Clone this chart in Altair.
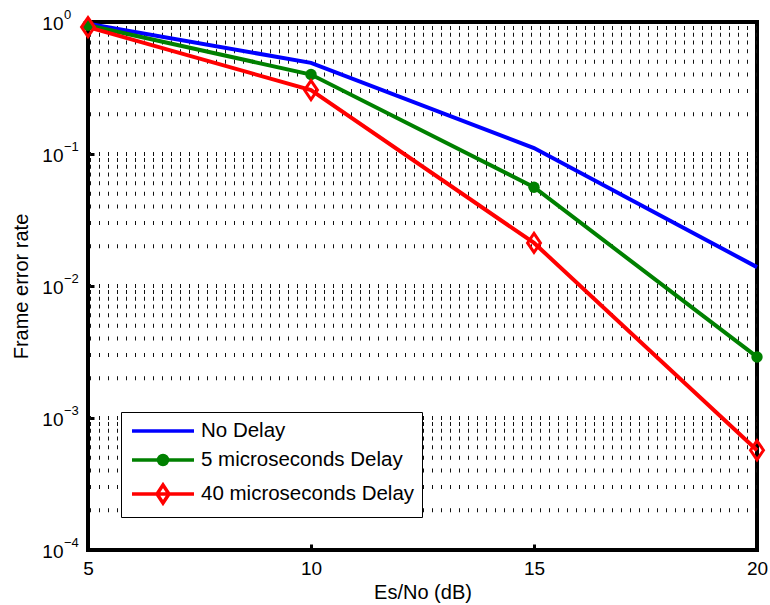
import altair as alt
import pandas as pd

# ---- data ----
es_no = [5, 10, 15, 20]
no_delay = [0.97, 0.49, 0.111, 0.0139]
delay_5us = [0.945, 0.40, 0.056, 0.0029]
delay_40us = [0.915, 0.305, 0.0212, 0.00057]

series_names = ["No Delay", "5 microseconds Delay", "40 microseconds Delay"]
series_colors = ["#0000ff", "#008000", "#ff0000"]

x_ticks = [5, 10, 15, 20]
y_major = [1e-4, 1e-3, 1e-2, 1e-1, 1.0]
y_exponents = ["\u22124", "\u22123", "\u22122", "\u22121", "0"]
# dotted grid rows (MATLAB minor + major grid on log axis)
grid_values = [m * 10.0 ** k for k in range(-4, 0) for m in range(1, 10)][1:]

FONT = "Liberation Sans"

rows = []
for name, vals in zip(series_names, [no_delay, delay_5us, delay_40us]):
    for xv, yv in zip(es_no, vals):
        rows.append({"series": name, "es_no": xv, "fer": yv})
df = pd.DataFrame(rows)

color_scale = alt.Scale(domain=series_names, range=series_colors)

x_enc = alt.X(
    "es_no:Q",
    scale=alt.Scale(domain=[5, 20], nice=False, zero=False),
    axis=alt.Axis(
        values=x_ticks, format="d", title="Es/No (dB)", offset=-6, tickSize=6,
        tickWidth=3, tickColor="black", domain=False, grid=False,
        labelFontSize=19, labelPadding=9, labelColor="black", labelFont=FONT,
        labelFlush=False, titleFontSize=20, titleFontWeight="normal",
        titleColor="black", titleFont=FONT, titlePadding=4,
    ),
)
y_axis = alt.Axis(
    values=y_major, labelExpr="'10'", title="Frame error rate", offset=-6,
    tickSize=6, tickWidth=3, tickColor="black", domain=False, grid=False,
    labelFontSize=19, labelPadding=25, labelColor="black", labelFont=FONT,
    labelOffset=1.5, titleFontSize=20, titleFontWeight="normal",
    titleColor="black", titleFont=FONT, titlePadding=10,
)
y_scale = alt.Scale(type="log", domain=[1e-4, 1], nice=False)
y_enc = alt.Y("fer:Q", scale=y_scale, axis=y_axis)

# grid rows
grid = alt.Chart(pd.DataFrame({"fer": grid_values})).mark_rule(
    strokeDash=[1, 8], strokeWidth=4, color="#111111"
).encode(y=y_enc)

# exponents of the y tick labels
exps = alt.Chart(pd.DataFrame({"fer": y_major, "exp": y_exponents})).mark_text(
    align="left", baseline="middle", dy=-7.5, fontSize=13, font=FONT, color="black"
).encode(y=y_enc, x=alt.value(-24), text="exp:N")

base = alt.Chart(df)
line_layers = []
for name, col in zip(series_names, series_colors):
    line_layers.append(
        base.transform_filter(alt.datum.series == name)
        .mark_line(strokeWidth=4, color=col)
        .encode(x=x_enc, y=y_enc)
    )

circles = base.transform_filter(alt.datum.series == series_names[1]).mark_point(
    shape="circle", filled=True, size=130, opacity=1, strokeWidth=0,
    color=series_colors[1]
).encode(x=x_enc, y=y_enc)

diamond_path = "M0,-1L0.68,0L0,1L-0.68,0Z"
diamonds = base.transform_filter(alt.datum.series == series_names[2]).mark_point(
    shape=diamond_path, filled=False, size=361, opacity=1, strokeWidth=3,
    color=series_colors[2]
).encode(x=x_enc, y=y_enc)

# legend symbols: line + marker (unit = 10 px at symbolSize 400)
legend_paths = [
    "M-3.1,0H3.1",
    "M-3.1,0H3.1M-0.45,0A0.45,0.45 0 1,0 0.45,0A0.45,0.45 0 1,0 -0.45,0Z"
    "M-0.15,0A0.15,0.15 0 1,0 0.15,0A0.15,0.15 0 1,0 -0.15,0Z",
    "M-3.1,0H3.1M0,-0.9L0.6,0L0,0.9L-0.6,0Z",
]
leg = alt.Legend(
    title=None, orient="none", legendX=33, legendY=390, padding=7,
    rowPadding=6, symbolSize=400, symbolStrokeWidth=3.5, symbolOffset=23,
    labelOffset=26, labelFontSize=20.5, labelFont=FONT, labelColor="black",
    labelLimit=400, strokeColor="black", fillColor="white", cornerRadius=0,
)
legend_layer = base.transform_filter("false").mark_point(
    filled=False, opacity=1
).encode(
    color=alt.Color("series:N", scale=color_scale, legend=leg),
    shape=alt.Shape("series:N", scale=alt.Scale(domain=series_names, range=legend_paths), legend=leg),
)

chart = alt.layer(
    grid, *line_layers, circles, diamonds, exps, legend_layer
).properties(
    width=669, height=528,
    autosize=alt.AutoSizeParams(type="none"),
    padding={"left": 88, "top": 22, "right": 13, "bottom": 55},
    background="white",
).configure_view(
    stroke="black", strokeWidth=4
)

chart.save("out.html", embed_options={"renderer": "svg", "actions": False})
